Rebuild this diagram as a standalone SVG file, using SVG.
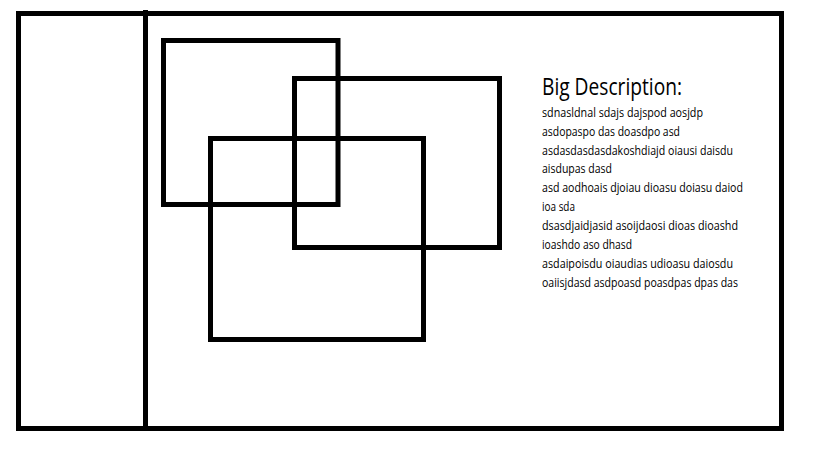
<svg xmlns="http://www.w3.org/2000/svg" width="819" height="460" viewBox="0 0 819 460">
<style>
.box{fill:none;stroke:#000;stroke-width:5}
.title{font-family:"Open Sans","Liberation Sans",sans-serif;font-size:24px;fill:#000}
.body{font-family:"Open Sans","Liberation Sans",sans-serif;font-size:13px;fill:#000}
</style>
<rect width="819" height="460" fill="#fff"/>
<g id="frame">
<rect class="box" x="18.5" y="13.5" width="763" height="415"/>
<line class="box" x1="145.5" y1="10" x2="145.5" y2="431"/>
</g>
<g id="rect1"><rect class="box" x="163.5" y="40.5" width="174.5" height="164"/></g>
<g id="rect2"><rect class="box" x="294.5" y="78.5" width="205" height="169"/></g>
<g id="rect3"><rect class="box" x="210.5" y="138.5" width="213" height="201"/></g>
<g id="description">
<text class="title" x="542" y="95" textLength="140" lengthAdjust="spacingAndGlyphs">Big Description:</text>
<text class="body" x="542" y="117" textLength="161" lengthAdjust="spacingAndGlyphs">sdnasldnal sdajs dajspod aosjdp</text>
<text class="body" x="542" y="135.5" textLength="138" lengthAdjust="spacingAndGlyphs">asdopaspo das doasdpo asd</text>
<text class="body" x="542" y="154.5" textLength="191" lengthAdjust="spacingAndGlyphs">asdasdasdasdakoshdiajd oiausi daisdu</text>
<text class="body" x="542" y="173" textLength="70" lengthAdjust="spacingAndGlyphs">aisdupas dasd</text>
<text class="body" x="542" y="192" textLength="201" lengthAdjust="spacingAndGlyphs">asd aodhoais djoiau dioasu doiasu daiod</text>
<text class="body" x="542" y="211" textLength="33" lengthAdjust="spacingAndGlyphs">ioa sda</text>
<text class="body" x="542" y="229.5" textLength="196" lengthAdjust="spacingAndGlyphs">dsasdjaidjasid asoijdaosi dioas dioashd</text>
<text class="body" x="542" y="248.5" textLength="90" lengthAdjust="spacingAndGlyphs">ioashdo aso dhasd</text>
<text class="body" x="542" y="267.5" textLength="191" lengthAdjust="spacingAndGlyphs">asdaipoisdu oiaudias udioasu daiosdu</text>
<text class="body" x="542" y="287" textLength="196" lengthAdjust="spacingAndGlyphs">oaiisjdasd asdpoasd poasdpas dpas das</text>
</g>
</svg>
